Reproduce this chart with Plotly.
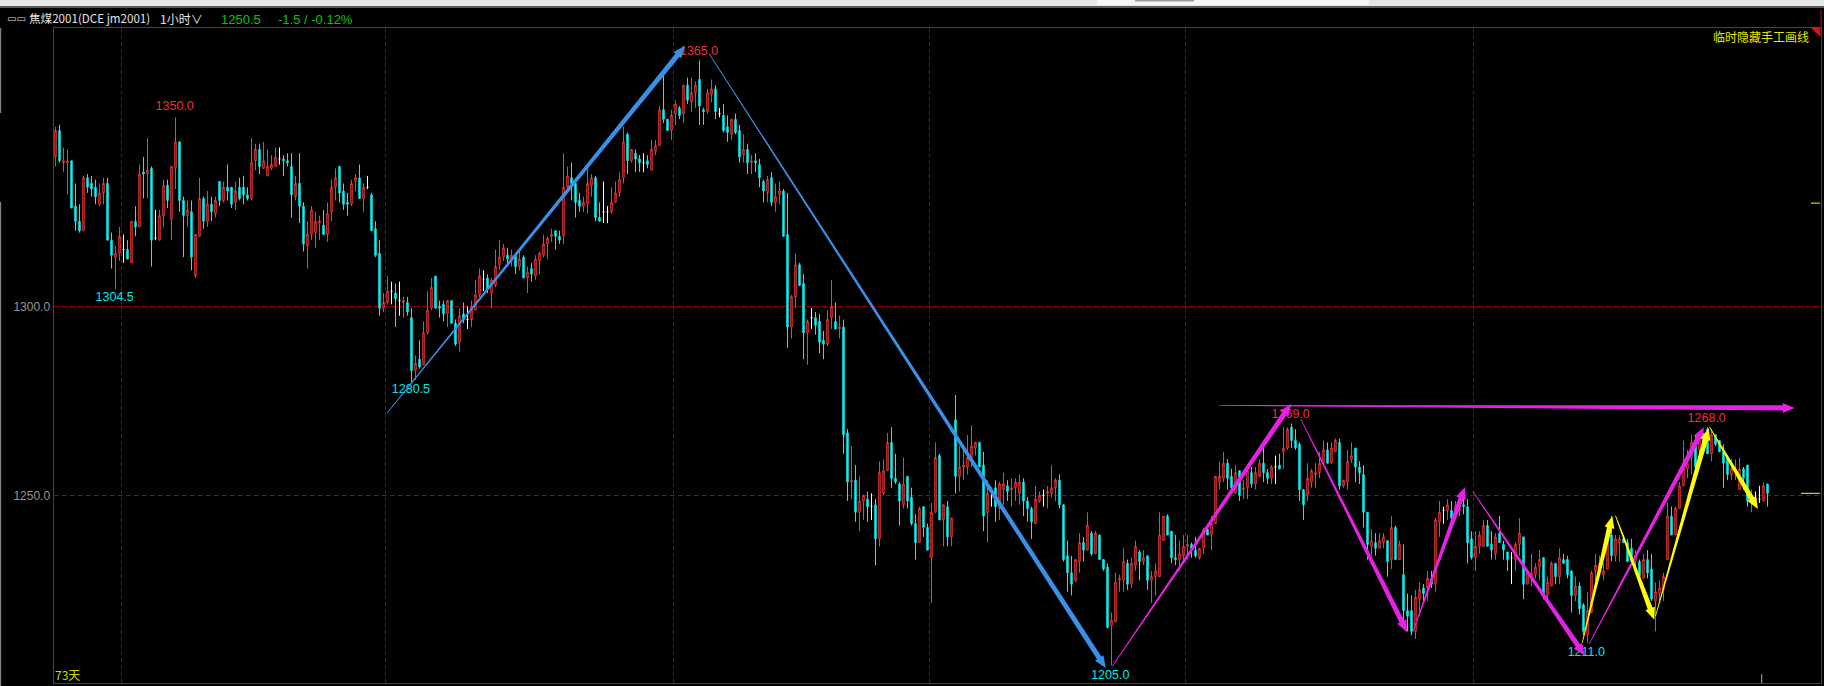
import math
import plotly.graph_objects as go

opens = [
1339.5,1346.5,1338,1338,1338.5,1326.5,1322.5,1320,1334,1332.5,
1331.5,1327,1330,1332.5,1317.5,1313,1314,1315,1315,1311.5,
1322.5,1321,1335.5,1335,1336.5,1318,1317.5,1324,1332,1323,
1336.5,1343.5,1328,1324,1325,1308,1318.5,1328.5,1322.5,1327,
1324.5,1333,1328,1331.5,1331.5,1327.5,1331.5,1331.5,1329.5,1328.5,
1338.5,1341.5,1336.5,1334.5,1336.5,1337,1339,1339,1338.5,1337,
1329,1332.5,1326.5,1316,1319,1319.5,1322,1321.5,1319,1325,
1331.5,1337,1330.5,1327.5,1327,1333,1334,1328.5,1331.5,1329.5,
1320.5,1314,1299.5,1301,1304,1303.5,1301.5,1301,1301,1297,
1283,1286,1284.5,1293,1299.5,1308,1300,1300.5,1298,1301.5,
1295.5,1290.5,1298,1296.5,1296.5,1299,1303,1307,1307.5,1303.5,
1305.5,1311,1313,1313.5,1312,1313.5,1310.5,1313,1307.5,1310,
1308,1312,1313.5,1316.5,1318.5,1320,1318.5,1318.5,1331.5,1334,
1332.5,1328,1326.5,1327,1332,1334,1323.5,1325,1325,1325,
1327.5,1330,1334,1345.5,1338.5,1340.5,1339,1338,1338.5,1336,
1341,1342.5,1352,1349.5,1346.5,1351,1352.5,1351,1358.5,1354,
1356.5,1360,1352,1351.5,1356,1357.5,1351,1350.5,1347.5,1345.5,
1349.5,1346.5,1340,1341.5,1338,1338.5,1337.5,1333,1330,1334,
1327.5,1329.5,1330.5,1319,1294.5,1302.5,1311,1306,1293,1297,
1297,1296,1291,1290,1297,1296,1294,1294.5,1266.5,1253.5,
1254,1245.5,1248.5,1249,1247,1247.5,1238.5,1250.5,1256.5,1264,
1254.5,1253,1247.5,1255,1249.5,1242.5,1237.5,1247,1241.5,1233.5,
1245.5,1260.5,1243.5,1247,1239,1270,1255,1257.5,1257.5,1260,
1262.5,1264,1258,1245.5,1249.5,1252,1246.5,1251.5,1252.5,1251.5,
1252,1250.5,1253.5,1248.5,1246.5,1242.5,1248.5,1250,1250.5,1250.5,
1252,1254,1247.5,1234,1229.5,1227.5,1232.5,1237.5,1235.5,1240,
1234.5,1239.5,1233,1231,1215.5,1216.5,1227.5,1227.5,1232,1226.5,
1231.5,1235,1232.5,1234,1227.5,1228.5,1228.5,1238,1244.5,1240.5,
1233.5,1233,1234,1236.5,1237,1235.5,1233.5,1236,1241,1239.5,
1242.5,1253.5,1254.5,1258.5,1255,1250.5,1256.5,1251.5,1252,1256,
1253,1255,1258.5,1256,1254.5,1257.5,1258,1261.5,1262.5,1268,
1264.5,1263.5,1251.5,1250,1253.5,1255.5,1256,1258.5,1262,1258.5,
1261.5,1264,1252.5,1253.5,1259.5,1262.5,1257.5,1255.5,1245.5,1236.5,
1237.5,1236,1237.5,1238,1233,1241.5,1233,1229,1219.5,1219.5,
1214,1222.5,1225.5,1225.5,1228,1226.5,1243,1246,1246,1246,
1245.5,1246,1247.5,1247,1238.5,1233.5,1236.5,1236.5,1242,1237,
1234.5,1240,1237,1235,1233.5,1233,1237,1239,1226.5,1228.5,
1229,1231,1233.5,1223.5,1226,1232,1228.5,1233,1233,1230,
1223.5,1226,1221,1213,1219,1230,1229.5,1229,1230.5,1239.5,
1234,1237.5,1238.5,1237.5,1236,1232.5,1232.5,1228,1233,1230.5,
1222,1224,1225,1233,1244.5,1239.5,1246.5,1252.5,1257,1260,
1263.5,1262,1266,1267.5,1261,1266,1264.5,1261.5,1260,1255.5,
1256.5,1251.5,1257,1258,1248.5,1249,1249,1248.5,1253,
]
highs = [
1347.5,1348,1342,1341.5,1338.5,1332.5,1327,1334.5,1335,1334.5,
1333.5,1332.5,1334,1334,1319.5,1316,1321,1319,1317.5,1322.5,
1326.5,1337.5,1339.5,1344.5,1337,1325.5,1325.5,1333.5,1333.5,1337,
1350,1343.5,1329,1328,1328,1319,1334,1329,1330.5,1329,
1329,1333,1333,1337.5,1331.5,1333,1334,1334.5,1331.5,1344.5,
1343,1343,1343.5,1341.5,1340,1342,1342,1340,1340.5,1340.5,
1334.5,1340.5,1327.5,1322.5,1326.5,1325,1324,1325.5,1327.5,1333.5,
1336.5,1337,1332.5,1330,1333.5,1335,1337.5,1332.5,1334.5,1330,
1322.5,1317.5,1303.5,1308,1306.5,1306,1306.5,1302.5,1302.5,1299.5,
1287,1291,1296,1304,1307.5,1308,1301.5,1301.5,1301.5,1301.5,
1296.5,1299.5,1301,1300,1301.5,1307,1310,1309.5,1308.5,1307.5,
1315,1317.5,1316.5,1315.5,1315,1313.5,1315,1313.5,1310.5,1311.5,
1313.5,1314.5,1319,1318.5,1320.5,1320,1320,1340.5,1337,1338,
1332.5,1330,1329,1336.5,1335,1334.5,1327.5,1333,1326.5,1331.5,
1333,1335.5,1347.5,1346,1341.5,1341.5,1340,1340.5,1340,1344,
1344,1353,1361,1349.5,1352,1354.5,1353,1358.5,1360.5,1360.5,
1359.5,1365,1352.5,1357.5,1360,1358.5,1352.5,1353.5,1350.5,1349.5,
1351,1348,1345.5,1343,1340,1340.5,1339,1333.5,1334.5,1335.5,
1332.5,1333,1331,1330,1303,1314,1311.5,1308.5,1296.5,1299.5,
1298.5,1298,1293.5,1299,1307,1301,1297.5,1296.5,1267.5,1263,
1258,1255,1250,1251,1250.5,1249,1259,1259.5,1266.5,1268,
1261,1253.5,1260,1255,1252,1245,1247,1247,1242.5,1248,
1264,1261,1247.5,1248.5,1244,1276.5,1263,1262,1266,1268.5,
1264,1264,1261.5,1254,1252,1254,1253.5,1256,1254,1254.5,
1254.5,1255.5,1254.5,1249.5,1247,1252.5,1251,1251.5,1252.5,1258,
1254.5,1255.5,1247.5,1238,1234,1233,1240,1239,1245.5,1240.5,
1240.5,1239.5,1233,1232,1219,1229.5,1229,1236,1233,1233.5,
1238,1235.5,1235.5,1234,1230,1232,1245.5,1244.5,1245,1240.5,
1239.5,1238,1239.5,1239.5,1237.5,1239,1236,1241.5,1242,1244.5,
1255,1259,1261.5,1259.5,1257,1258,1256.5,1254,1257.5,1257.5,
1257.5,1259.5,1262.5,1257,1258,1260.5,1261,1268,1268,1269,
1267.5,1264,1251.5,1258.5,1257,1258.5,1261.5,1264.5,1264,1264,
1265,1265,1254,1262,1264,1262.5,1259,1258,1245.5,1241,
1240,1240,1240,1238,1244.5,1242,1238,1237,1224,1223.5,
1225,1227,1226.5,1230,1230,1244,1248.5,1247,1249,1248.5,
1248.5,1248.5,1249,1249,1240.5,1240.5,1240.5,1243.5,1243.5,1240.5,
1240,1244.5,1238,1235,1235,1237.5,1244,1239,1230.5,1234.5,
1232,1235.5,1233.5,1228.5,1232.5,1232,1236,1234.5,1234,1230,
1228.5,1227,1221.5,1224.5,1230,1234.5,1234,1232,1240,1244.5,
1239.5,1239.5,1239,1238.5,1238.5,1235.5,1233,1234.5,1235.5,1234.5,
1227,1227.5,1229.5,1248,1247,1247,1253.5,1264.5,1262,1266,
1266,1266.5,1266.5,1268,1267.5,1266,1264.5,1263.5,1260,1259.5,
1259.5,1260,1257.5,1258,1251.5,1251,1252.5,1253.5,1253,
]
lows = [
1337,1338,1335.5,1329.5,1326,1320,1319.5,1320,1330,1329,
1327,1326.5,1327,1317.5,1310,1304.5,1312,1311.5,1312.5,1311.5,
1318.5,1321,1328.5,1328.5,1310.5,1317.5,1317.5,1321,1326,1317.5,
1331,1325,1313,1321,1309.5,1307.5,1318.5,1320.5,1321,1322.5,
1323.5,1326.5,1327.5,1328,1326,1325.5,1328,1327,1328,1328,
1336,1335,1336.5,1334.5,1336,1337,1337.5,1334.5,1337,1323.5,
1328,1322,1314.5,1310,1317.5,1315.5,1317.5,1319,1317,1322.5,
1328,1327.5,1325.5,1324,1326.5,1330.5,1328.5,1325,1331,1320,
1313,1297.5,1298.5,1300.5,1300.5,1294.5,1297.5,1297,1297.5,1280,
1280.5,1283.5,1284.5,1292.5,1299,1299.5,1297,1296,1294.5,1295.5,
1289.5,1288,1295.5,1294,1294.5,1299,1302.5,1304,1303.5,1299.5,
1305,1309.5,1312,1311,1310.5,1308.5,1309.5,1307.5,1303.5,1306.5,
1307,1308.5,1313,1312.5,1317,1315,1316.5,1316.5,1330.5,1328,
1323.5,1325,1325,1324.5,1329,1322.5,1322.5,1322,1322,1324.5,
1327.5,1329,1332.5,1335,1338,1335.5,1335.5,1335.5,1336.5,1336,
1340,1342.5,1348.5,1346.5,1344,1348,1349.5,1348.5,1353.5,1351.5,
1352.5,1348,1348,1351,1354,1349.5,1350,1346,1343.5,1344,
1345.5,1338,1338,1335,1335,1335.5,1331.5,1327.5,1327.5,1326.5,
1325,1327,1318.5,1289,1291.5,1299.5,1305.5,1286,1284.5,1294,
1292.5,1287.5,1286,1289.5,1294,1294,1291.5,1261,1248.5,1249,
1243,1240.5,1243.5,1243,1243.5,1231.5,1236.5,1250,1256.5,1252,
1253,1242,1246.5,1246.5,1242,1233,1237.5,1239,1235.5,1221.5,
1245.5,1243.5,1236.5,1236.5,1236.5,1250.5,1251,1254,1255.5,1257.5,
1260.5,1257.5,1240.5,1237.5,1247,1243,1243.5,1247.5,1248.5,1247,
1248.5,1247.5,1244.5,1243,1238.5,1242.5,1248,1247,1246.5,1249.5,
1248.5,1246.5,1232.5,1224.5,1223.5,1227,1229.5,1232.5,1235.5,1234,
1234.5,1233,1230,1215,1205,1216.5,1224.5,1224.5,1225,1225.5,
1230,1227.5,1231.5,1225,1221.5,1223.5,1228.5,1238,1239.5,1232,
1231.5,1230,1232.5,1233,1233.5,1233.5,1233,1234.5,1239.5,1235.5,
1242.5,1251.5,1253.5,1251.5,1251,1250.5,1248.5,1249,1249,1252,
1251.5,1255,1253.5,1253,1253,1253,1257,1257,1262,1262.5,
1262,1248.5,1243.5,1248.5,1252,1252,1254.5,1258.5,1258.5,1258.5,
1261.5,1251.5,1252,1251.5,1258.5,1253.5,1253,1241.5,1233,1234,
1234,1236,1236,1228.5,1230.5,1233,1233,1217,1214,1213,
1212,1218,1222,1222,1225.5,1224.5,1239,1242.5,1243.5,1243.5,
1244,1244.5,1245,1232,1233,1230,1234.5,1236.5,1236.5,1233,
1233,1237.5,1233,1230,1226.5,1230,1234,1222.5,1226.5,1226,
1228,1227.5,1222.5,1222,1226,1226.5,1226.5,1232,1228,1219,
1222,1218.5,1213,1211,1219,1227.5,1228.5,1227.5,1230.5,1232.5,
1232.5,1232.5,1237.5,1232.5,1232.5,1229,1227,1228,1228,1222,
1214,1222,1222,1233,1239.5,1239.5,1246.5,1252.5,1254.5,1255.5,
1257,1260,1261,1261,1259,1263,1261.5,1252,1254,1254,
1254,1251.5,1251.5,1247,1245.5,1247,1248,1248.5,1247,
]
closes = [
1346.5,1338.5,1338.5,1338.5,1326,1322.5,1320,1334,1331.5,1331,
1329,1330,1332.5,1317.5,1313.5,1314,1318.5,1315,1312.5,1322.5,
1321,1335,1335,1336,1317.5,1318,1324,1332,1328,1337,
1343.5,1328,1324,1325.5,1313,1319,1328.5,1322.5,1327,1325,
1328,1328,1331.5,1330.5,1327,1330.5,1328.5,1329.5,1328.5,1338,
1341.5,1337,1338.5,1337,1337.5,1339.5,1339,1338.5,1338,1329.5,
1332.5,1326.5,1316.5,1319,1325.5,1322.5,1322.5,1319,1324.5,1331.5,
1334,1330,1327,1327,1332.5,1334,1328.5,1331.5,1331.5,1320,
1313.5,1299.5,1301,1304,1304,1302,1301.5,1301.5,1298.5,1283,
1285,1284,1293,1299,1305,1299.5,1299.5,1298,1301.5,1295.5,
1290,1297.5,1296.5,1296.5,1300,1303,1308,1307,1304.5,1307,
1310.5,1313,1315.5,1312.5,1313.5,1310.5,1312.5,1307.5,1309,1308.5,
1312.5,1314,1316.5,1318,1319,1318.5,1317.5,1331.5,1334.5,1332.5,
1327.5,1326.5,1327.5,1332.5,1334,1323.5,1322.5,1325,1325,1327.5,
1330,1333.5,1343.5,1338.5,1341.5,1339,1338,1338,1337.5,1341.5,
1342.5,1352,1349.5,1346.5,1350.5,1353.5,1350.5,1358.5,1354.5,1356.5,
1358.5,1353,1351.5,1356.5,1357.5,1351.5,1351,1346.5,1346,1349.5,
1346,1339.5,1341.5,1338,1338.5,1338,1334,1330.5,1333.5,1327.5,
1329,1330.5,1318.5,1294.5,1302.5,1311,1305.5,1293,1296,1297,
1295,1290.5,1290,1296.5,1300,1294,1294.5,1266,1253.5,1254,
1245.5,1248.5,1250,1247,1247,1238.5,1256,1256.5,1264,1254.5,
1253.5,1248.5,1253,1248.5,1242.5,1237.5,1246.5,1241.5,1235.5,1245.5,
1260,1243.5,1247.5,1239,1244,1255,1257.5,1258,1260,1263,
1264,1257.5,1244.5,1250.5,1249.5,1247,1253,1253,1251,1252,
1253.5,1253.5,1248.5,1246.5,1243,1249,1250,1250,1251,1252,
1254,1247.5,1233,1229.5,1226.5,1233,1237.5,1235.5,1242,1234.5,
1240,1233,1230.5,1215,1217,1227,1228,1232.5,1226.5,1232,
1236.5,1232.5,1233.5,1227.5,1228.5,1230,1239.5,1244.5,1239.5,1233.5,
1233,1234.5,1236.5,1237,1236,1234,1236,1241,1239.5,1242.5,
1255,1255,1258.5,1254.5,1252,1256,1250,1252,1256.5,1253,
1256,1258.5,1256,1254.5,1257.5,1257.5,1257,1262.5,1267.5,1264.5,
1262.5,1251.5,1247.5,1254.5,1256.5,1256,1258.5,1262,1258.5,1262.5,
1264.5,1252.5,1254,1259,1260.5,1257.5,1256,1245.5,1237,1238,
1236,1238,1239,1232.5,1241.5,1233,1237,1219.5,1218,1214,
1223,1225,1224,1228,1226.5,1243.5,1245.5,1246,1247.5,1244,
1247,1247.5,1247,1237.5,1233.5,1236.5,1239.5,1242,1236.5,1235.5,
1239,1237.5,1235.5,1233,1233.5,1237,1240,1226.5,1229.5,1229.5,
1231,1233,1224,1227,1232,1228.5,1233.5,1232,1229,1223.5,
1226,1220,1214,1219.5,1229.5,1231.5,1232,1230,1237.5,1234,
1238.5,1238.5,1237.5,1232.5,1232.5,1234,1228.5,1233,1229.5,1222.5,
1224.5,1225.5,1228.5,1244.5,1239.5,1246.5,1252.5,1257,1258.5,1264,
1257.5,1265.5,1262,1261,1266,1263.5,1261.5,1258.5,1255.5,1257,
1257,1257,1254.5,1248.5,1249.5,1249,1249,1252.5,1250.5,
]

# session boundaries (between candles) and price ticks
session_breaks = [16.5, 82.5, 154.5, 218.5, 282.5, 354.5]
price_ticks = [1300, 1250]
price_tick_labels = ["1300.0", "1250.0"]

# labelled highs and lows
label_texts = ["1350.0", "1304.5", "1280.5", "1365.0", "1205.0", "1269.0", "1211.0", "1268.0"]
label_x = [29.8, 14.8, 88.85, 160.9, 263.7, 308.8, 382.7, 412.8]
label_y = [1352.7, 1302.2, 1277.9, 1367.4, 1202.3, 1271.3, 1208.4, 1270.2]
label_colors = ["#ee3030", "#00e8e8", "#00e8e8", "#ee3030", "#00e8e8", "#ee3030", "#00e8e8", "#ee3030"]

# hand-drawn trend arrows: start/end candle index and price
arrow_x0 = [82.9, 163.6, 264.2, 290.9, 311.3, 339.4, 354.35, 383.4, 381.7, 390.0, 400.0, 413.5]
arrow_y0 = [1271.8, 1366.5, 1204.8, 1273.8, 1270.2, 1214.0, 1251.0, 1210.7, 1211.0, 1244.6, 1218.0, 1268.1]
arrow_x1 = [157.4, 262.55, 308.9, 434.8, 337.9, 352.4, 382.3, 412.1, 389.2, 399.7, 413.3, 425.6]
arrow_y1 = [1368.9, 1204.3, 1274.2, 1273.1, 1213.8, 1252.2, 1207.6, 1268.0, 1244.5, 1217.1, 1267.8, 1246.4]
arrow_colors = ["#3a8fe6", "#3a8fe6", "#e422e4", "#e422e4", "#e422e4", "#e422e4",
                "#e422e4", "#e422e4", "#ffff00", "#ffff00", "#ffff00", "#ffff00"]

W, H = 1824, 686
PX_PER_IDX, PX_PER_PRICE = 4.0, 3.78
PLOT_L, PLOT_R, PLOT_T, PLOT_B = 53.5, 1821.0, 27.5, 683.3
IDX0_PX = 55.5
PRICE_1300_PX = 306.3


def px(x):
    return x / W


def py(y):
    return 1 - y / H


xs = list(range(len(opens)))
groups = {
    "up": [i for i in xs if closes[i] > opens[i]],
    "down": [i for i in xs if closes[i] < opens[i]],
    "flat": [i for i in xs if closes[i] == opens[i]],
}
styles = {
    "up": ("#ff3838", "#000000"),
    "down": ("#00f5f5", "#00f5f5"),
    "flat": ("#ffffff", "#ffffff"),
}

fig = go.Figure()
for name, idx in groups.items():
    line, fill = styles[name]
    side = dict(line=dict(color=line, width=1), fillcolor=fill)
    fig.add_trace(go.Candlestick(
        x=idx,
        open=[opens[i] for i in idx],
        high=[highs[i] for i in idx],
        low=[lows[i] for i in idx],
        close=[closes[i] for i in idx],
        increasing=side, decreasing=side,
        whiskerwidth=0, showlegend=False, hoverinfo="skip", name=name,
    ))

fig.add_trace(go.Scatter(
    x=label_x, y=label_y, text=label_texts, mode="text", showlegend=False,
    hoverinfo="skip",
    textfont=dict(family="Liberation Sans", size=12.5, color=label_colors),
))

shapes = []


def arrow_path(x0, y0, x1, y1):
    dx, dy = (x1 - x0) * PX_PER_IDX, -(y1 - y0) * PX_PER_PRICE
    length = math.hypot(dx, dy)
    ux, uy = dx / length, dy / length
    nx, ny = -uy, ux
    head_len = 12.0
    tail_half, neck_half, head_half = 0.4, 2.6, 5.0
    neck = length - head_len
    local = [(0, tail_half), (neck, neck_half), (neck, head_half), (length, 0),
             (neck, -head_half), (neck, -neck_half), (0, -tail_half)]
    pts = []
    for a, b in local:
        qx = (ux * a + nx * b) / PX_PER_IDX + x0
        qy = y0 - (uy * a + ny * b) / PX_PER_PRICE
        pts.append(f"{qx:.3f} {qy:.3f}")
    return "M " + " L ".join(pts) + " Z"


for a, b, c, d, col in zip(arrow_x0, arrow_y0, arrow_x1, arrow_y1, arrow_colors):
    shapes.append(dict(type="path", xref="x", yref="y", path=arrow_path(a, b, c, d),
                       fillcolor=col, line=dict(width=0), layer="above"))


def rect(x0, y0, x1, y1, color):
    shapes.append(dict(type="rect", xref="paper", yref="paper", x0=px(x0), x1=px(x1),
                       y0=py(y1), y1=py(y0), fillcolor=color, line=dict(width=0), layer="above"))


# window chrome and small markers
rect(0, 0, W, 6, "#e6e6e6")
rect(0, 6, W, 8, "#5a5a5a")
rect(1097, 0, 1369, 5, "#f6f6f6")
rect(1135, 0, 1194, 1.5, "#9a9a9a")
rect(0, 28, 1.2, 113, "#808080")
rect(0, 202, 1.2, H, "#808080")
rect(1811, 202.6, 1820, 203.6, "#ffff00")
rect(1801, 492.8, 1820, 493.8, "#ffff00")
rect(1761.2, 674, 1762.2, 683, "#b0b0b0")
rect(1820.5, 10, 1821.5, 28, "#c01010")
shapes.append(dict(type="path", xref="paper", yref="paper", layer="above",
                   path=f"M {px(1810.5)} {py(27.5)} L {px(1820.5)} {py(27.5)} L {px(1820.5)} {py(37)} Z",
                   fillcolor="#d01818", line=dict(width=0)))

annotations = []


def note(x, y, text, color, size, family="Noto Sans CJK SC", anchor="left"):
    annotations.append(dict(xref="paper", yref="paper", x=px(x), y=py(y), text=text,
                            showarrow=False, xanchor=anchor, yanchor="middle",
                            font=dict(family=family, size=size, color=color),
                            xshift=0, yshift=0, borderpad=0))


note(6, 18, "▭▭", "#d8d8d8", 10, "DejaVu Sans")
note(28, 18, "焦煤2001(DCE jm2001)", "#e4e4e4", 11.6)
note(159, 18, "1小时∨", "#e4e4e4", 12)
note(220, 19, "1250.5", "#00c800", 13, "Liberation Sans")
note(277, 19, "-1.5 / -0.12%", "#00c800", 13, "Liberation Sans")
note(1810, 36, "临时隐藏手工画线", "#e6e600", 12, anchor="right")
note(54, 674, "73天", "#d8d800", 12)

fig.update_layout(
    width=W, height=H, autosize=False,
    margin=dict(l=0, r=0, t=0, b=0, pad=0),
    paper_bgcolor="#000000", plot_bgcolor="#000000",
    showlegend=False, boxgap=0.5,
    shapes=shapes, annotations=annotations,
    hovermode=False,
    xaxis=dict(
        domain=[px(PLOT_L), px(PLOT_R)],
        range=[(PLOT_L - IDX0_PX) / PX_PER_IDX, (PLOT_R - IDX0_PX) / PX_PER_IDX],
        rangeslider=dict(visible=False),
        tickmode="array", tickvals=session_breaks, showticklabels=False, ticks="",
        showgrid=True, gridcolor="#960000", griddash="4px,3px", gridwidth=1,
        zeroline=False, showline=True, mirror=True, linecolor="#b81414", linewidth=1,
    ),
    yaxis=dict(
        domain=[py(PLOT_B), py(PLOT_T)],
        range=[1300 - (PLOT_B - PRICE_1300_PX) / PX_PER_PRICE,
               1300 + (PRICE_1300_PX - PLOT_T) / PX_PER_PRICE],
        tickmode="array", tickvals=price_ticks, ticktext=price_tick_labels,
        ticks="", ticklen=0,
        tickfont=dict(family="Liberation Sans", size=12, color="#949494"),
        showgrid=True, gridcolor="#a00000", griddash="5px,3px", gridwidth=1,
        zeroline=False, showline=True, mirror=True, linecolor="#b81414", linewidth=1,
    ),
)

fig.write_html("out.html", config=dict(displayModeBar=False),
               post_script="document.body.style.margin='0';document.documentElement.style.overflow='hidden';")
